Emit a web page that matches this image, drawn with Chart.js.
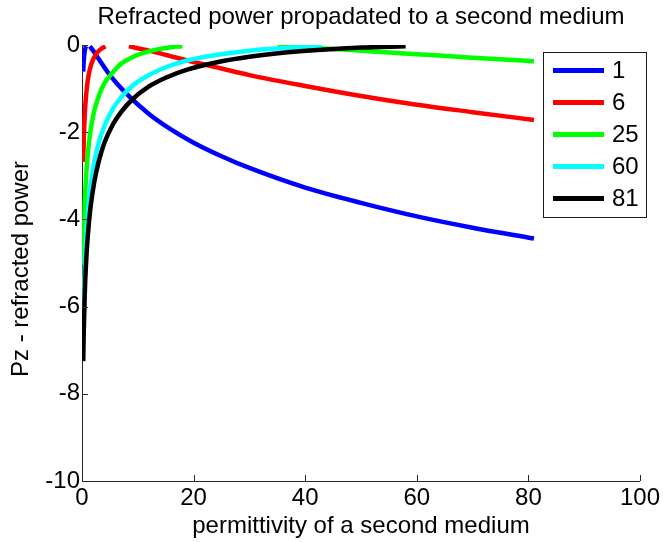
<!DOCTYPE html>
<html>
<head>
<meta charset="utf-8">
<title>Refracted power</title>
<script src="https://cdn.jsdelivr.net/npm/chart.js@4.4.1/dist/chart.umd.min.js"></script>
<style>
  html, body { margin: 0; padding: 0; background: #fff; }
  #wrap { width: 663px; height: 542px; }
</style>
</head>
<body>
<div id="wrap"><canvas id="chart" width="663" height="542"></canvas></div>
<script>
/* ---- Data ---- */
const legendLabels = ["1", "6", "25", "60", "81"];
const xTicks = [0, 20, 40, 60, 80, 100];
const yTicks = [-10, -8, -6, -4, -2, 0];

// null = no line drawn around the first medium's permittivity
const eps2Blue = [0.22, 0.3, 0.45, 0.6, 0.72, 1, 1.4, 2, 3, 5, 8, 12, 16, 20, 25, 30, 40, 50, 60, 70, 81];
const pzBlue   = [-0.61, -0.39, -0.17, -0.07, -0.03, null, -0.03, -0.13, -0.32, -0.69, -1.12, -1.58, -1.94, -2.24, -2.55, -2.82, -3.27, -3.62, -3.93, -4.19, -4.44];

const eps2Red = [0.22, 0.3, 0.4, 0.6, 0.9, 1.3, 1.8, 2.5, 3.3, 4.2, 6, 8.4, 12, 16, 20, 25, 30, 40, 50, 60, 70, 81];
const pzRed   = [-2.68, -2.24, -1.86, -1.37, -0.94, -0.62, -0.39, -0.21, -0.10, -0.03, null, -0.03, -0.13, -0.26, -0.39, -0.54, -0.69, -0.94, -1.17, -1.37, -1.54, -1.72];

const eps2Green = [0.22, 0.3, 0.5, 0.7, 1, 1.5, 2.2, 3, 4, 5.5, 7, 9, 11, 13.5, 16, 18, 25, 35, 40, 45, 50, 60, 70, 81];
const pzGreen   = [-5.04, -4.49, -3.62, -3.09, -2.55, -1.99, -1.51, -1.17, -0.88, -0.63, -0.43, -0.28, -0.18, -0.10, -0.05, -0.03, null, -0.03, -0.06, -0.09, -0.13, -0.21, -0.29, -0.37];

const eps2Cyan = [0.22, 0.3, 0.5, 0.7, 1, 1.5, 2.2, 3, 4, 5.5, 7, 9, 12, 15, 19, 24, 30, 36, 43];
const pzCyan   = [-6.67, -6.08, -5.13, -4.54, -3.93, -3.27, -2.68, -2.24, -1.86, -1.47, -1.20, -0.94, -0.69, -0.51, -0.35, -0.23, -0.13, -0.07, -0.03];

const eps2Black = [0.22, 0.3, 0.5, 0.7, 1, 1.5, 2.2, 3, 4, 5.5, 7, 9, 12, 15, 19, 24, 30, 36, 43, 50, 58];
const pzBlack   = [-7.25, -6.65, -5.68, -5.07, -4.44, -3.75, -3.14, -2.67, -2.25, -1.83, -1.54, -1.25, -0.95, -0.75, -0.56, -0.40, -0.27, -0.18, -0.11, -0.06, -0.03];


/* ---- Look ---- */
const palette = {
  blue:  "#0000ff",
  red:   "#ff0000",
  green: "#00ff00",
  cyan:  "#00ffff",
  black: "#000000",
  axis:  "#262626"
};
const FONT = "'Liberation Sans', Arial, Helvetica, sans-serif";

Chart.defaults.color = "#000";
Chart.defaults.font.family = FONT;
Chart.defaults.font.size = 24;

const toPoints = (xs, ys) => xs.map((x, i) => ({ x: x, y: ys[i] }));

function series(label, xs, ys, color, order) {
  return {
    label: label,
    data: toPoints(xs, ys),
    borderColor: color,
    backgroundColor: color,
    borderWidth: 4.5,
    borderJoinStyle: "round",
    pointRadius: 0,
    cubicInterpolationMode: "monotone",
    spanGaps: false,
    order: order          // later curves on top, as in the original plot
  };
}


/* ---- Inside ticks, y label and boxed legend ---- */
const matlabDecor = {
  id: "matlabDecor",
  afterDraw(chart) {
    const { ctx, chartArea: a, scales: { x, y } } = chart;
    ctx.save();

    // tick marks pointing into the plot
    ctx.strokeStyle = palette.axis;
    ctx.lineWidth = 1;
    ctx.beginPath();
    x.ticks.forEach(t => {
      const px = Math.round(x.getPixelForValue(t.value)) + 0.5;
      ctx.moveTo(px, a.bottom);
      ctx.lineTo(px, a.bottom - 6);
    });
    y.ticks.forEach(t => {
      const py = Math.round(y.getPixelForValue(t.value)) + 0.5;
      ctx.moveTo(a.left, py);
      ctx.lineTo(a.left + 6, py);
    });
    ctx.stroke();

    // y axis label
    ctx.fillStyle = "#000";
    ctx.font = "24px " + FONT;
    ctx.textAlign = "center";
    ctx.textBaseline = "middle";
    ctx.save();
    ctx.translate(21, 269);
    ctx.rotate(-Math.PI / 2);
    ctx.fillText("Pz - refracted power", 0, 0);
    ctx.restore();

    // legend box
    const box = { left: 543.5, top: 52.5, right: 646.5, bottom: 217.5 };
    ctx.fillStyle = "#fff";
    ctx.fillRect(box.left, box.top, box.right - box.left, box.bottom - box.top);
    ctx.strokeStyle = "#1a1a1a";
    ctx.strokeRect(box.left, box.top, box.right - box.left, box.bottom - box.top);

    ctx.textAlign = "left";
    chart.data.datasets.forEach((ds, i) => {
      const rowY = 70.5 + i * 32;
      ctx.strokeStyle = ds.borderColor;
      ctx.lineWidth = 5;
      ctx.beginPath();
      ctx.moveTo(553, rowY);
      ctx.lineTo(604, rowY);
      ctx.stroke();
      ctx.fillStyle = "#000";
      ctx.fillText(legendLabels[i], 612, rowY + 1);
    });

    ctx.restore();
  }
};


/* ---- Chart ---- */
new Chart(document.getElementById("chart"), {
  type: "line",
  data: {
    datasets: [
      series(legendLabels[0], eps2Blue,  pzBlue,  palette.blue,  5),
      series(legendLabels[1], eps2Red,   pzRed,   palette.red,   4),
      series(legendLabels[2], eps2Green, pzGreen, palette.green, 3),
      series(legendLabels[3], eps2Cyan,  pzCyan,  palette.cyan,  2),
      series(legendLabels[4], eps2Black, pzBlack, palette.black, 1)
    ]
  },
  options: {
    responsive: false,
    animation: false,
    devicePixelRatio: 1,
    layout: { padding: { left: 0, right: 23, top: 0, bottom: 0 } },
    plugins: {
      legend: { display: false },
      tooltip: { enabled: false },
      title: {
        display: true,
        fullSize: false,
        text: "Refracted power propadated to a second medium",
        font: { size: 24, weight: "normal", family: FONT },
        color: "#000",
        padding: { top: 3, bottom: 13.2 }
      }
    },
    scales: {
      x: {
        type: "linear",
        min: 0,
        max: 100,
        afterBuildTicks: s => { s.ticks = xTicks.map(v => ({ value: v })); },
        afterFit: s => { s.height = 61; },
        grid: { display: false, drawTicks: false },
        border: { display: true, color: palette.axis, width: 1 },
        ticks: { padding: 3, maxRotation: 0, autoSkip: false, color: "#000" },
        title: {
          display: true,
          text: "permittivity of a second medium",
          font: { size: 24 },
          color: "#000",
          padding: { top: 0, bottom: 1 }
        }
      },
      y: {
        type: "linear",
        min: -10,
        max: 0,
        afterBuildTicks: s => { s.ticks = yTicks.map(v => ({ value: v })); },
        afterFit: s => { s.width = 82; },
        grid: { display: false, drawTicks: false },
        border: { display: true, color: palette.axis, width: 1 },
        ticks: { padding: 2, autoSkip: false, color: "#000" }
      }
    }
  },
  plugins: [matlabDecor]
});
</script>
</body>
</html>
